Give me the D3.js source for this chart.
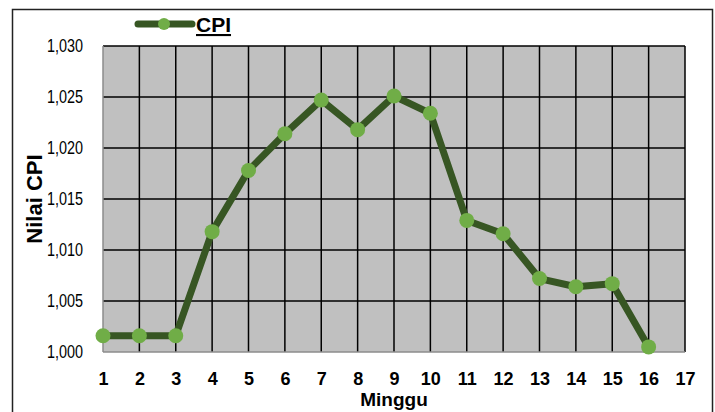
<!DOCTYPE html>
<html>
<head>
<meta charset="utf-8">
<script src="https://cdn.jsdelivr.net/npm/d3@7"></script>
<style>
  html, body { margin: 0; padding: 0; background: #fff; }
  svg { display: block; }
</style>
</head>
<body>
<svg id="chart" width="715" height="412"></svg>
<script>
// Weekly CPI values
const weeks = [1, 2, 3, 4, 5, 6, 7, 8, 9, 10, 11, 12, 13, 14, 15, 16];
const cpi = [1.0016, 1.0016, 1.0016, 1.0118, 1.0178, 1.0214, 1.0247, 1.0218,
             1.0251, 1.0234, 1.0129, 1.0116, 1.0072, 1.0064, 1.0067, 1.0005];
const xTicks = [1, 2, 3, 4, 5, 6, 7, 8, 9, 10, 11, 12, 13, 14, 15, 16, 17];
const yTicks = [1.000, 1.005, 1.010, 1.015, 1.020, 1.025, 1.030];
const seriesName = "CPI";

const svg = d3.select("#chart");
const plotL = 103, plotR = 685, plotT = 46, plotB = 352;

const x = d3.scaleLinear().domain([1, 17]).range([plotL, plotR]);
const y = d3.scaleLinear().domain([1.000, 1.030]).range([plotB, plotT]);
const fmt = v => d3.format(".3f")(v).replace(".", ",");

// Outer chart frame
svg.append("rect")
  .attr("x", 12.5).attr("y", 9.5).attr("width", 700).attr("height", 420)
  .attr("fill", "#fff").attr("stroke", "#222").attr("stroke-width", 1.5);

// Plot area
svg.append("rect")
  .attr("x", plotL).attr("y", plotT).attr("width", plotR - plotL).attr("height", plotB - plotT)
  .attr("fill", "#c0c0c0");

// Gridlines
const grid = svg.append("g");
grid.selectAll("line.v").data(xTicks.slice(1)).join("line")
  .attr("x1", d => x(d)).attr("x2", d => x(d))
  .attr("y1", plotT).attr("y2", plotB)
  .attr("stroke", "#000").attr("stroke-width", 1.5);
grid.selectAll("line.h").data(yTicks.slice(1)).join("line")
  .attr("x1", plotL).attr("x2", plotR)
  .attr("y1", d => y(d)).attr("y2", d => y(d))
  .attr("stroke", "#000").attr("stroke-width", 1.5);

// Axes lines (gray) along left and bottom
svg.append("line").attr("x1", plotL).attr("x2", plotL).attr("y1", plotT).attr("y2", plotB)
  .attr("stroke", "#8c8c8c").attr("stroke-width", 1.5);
svg.append("line").attr("x1", plotL).attr("x2", plotR).attr("y1", plotB).attr("y2", plotB)
  .attr("stroke", "#8c8c8c").attr("stroke-width", 1.5);

// Y axis labels, horizontally condensed
const squeeze = 0.8;
const yAxis = d3.axisLeft(y).tickValues(yTicks).tickFormat(fmt).tickSize(0).tickPadding(20);
const gy = svg.append("g").attr("transform", `translate(${plotL},0)`).call(yAxis);
gy.select(".domain").remove();
gy.selectAll("text")
  .attr("font-family", "'Liberation Sans', sans-serif")
  .attr("font-size", 18).attr("fill", "#000")
  .attr("x", -20 / squeeze)
  .attr("transform", `scale(${squeeze},1)`);

// X axis labels
const xAxis = d3.axisBottom(x).tickValues(xTicks).tickFormat(d3.format("d")).tickSize(0).tickPadding(20);
const gx = svg.append("g").attr("transform", `translate(0,${plotB})`).call(xAxis);
gx.select(".domain").remove();
gx.selectAll("text")
  .attr("font-family", "'Liberation Sans', sans-serif")
  .attr("font-weight", "bold").attr("font-size", 18).attr("fill", "#000");

// Axis titles
svg.append("text").attr("x", 394).attr("y", 406).attr("text-anchor", "middle")
  .attr("font-family", "'Liberation Sans', sans-serif")
  .attr("font-weight", "bold").attr("font-size", 19).text("Minggu");
svg.append("text").attr("transform", "translate(42,199) rotate(-90)").attr("text-anchor", "middle")
  .attr("font-family", "'Liberation Sans', sans-serif")
  .attr("font-weight", "bold").attr("font-size", 22).text("Nilai CPI");

// Series line and markers
const pts = weeks.map((w, i) => [w, cpi[i]]);
svg.append("path").datum(pts)
  .attr("d", d3.line().x(d => x(d[0])).y(d => y(d[1])))
  .attr("fill", "none").attr("stroke", "#375623").attr("stroke-width", 7)
  .attr("stroke-linejoin", "round");
svg.selectAll("circle.pt").data(pts).join("circle")
  .attr("cx", d => x(d[0])).attr("cy", d => y(d[1])).attr("r", 7.5)
  .attr("fill", "#70ad47");

// Legend
const lg = svg.append("g");
lg.append("line").attr("x1", 138).attr("x2", 192).attr("y1", 24).attr("y2", 24)
  .attr("stroke", "#375623").attr("stroke-width", 7).attr("stroke-linecap", "round");
lg.append("circle").attr("cx", 164).attr("cy", 24).attr("r", 6).attr("fill", "#70ad47");
lg.append("text").attr("x", 196).attr("y", 32)
  .attr("font-family", "'Liberation Sans', sans-serif")
  .attr("font-weight", "bold").attr("font-size", 21)
  .attr("text-decoration", "underline").text(seriesName);
</script>
</body>
</html>
